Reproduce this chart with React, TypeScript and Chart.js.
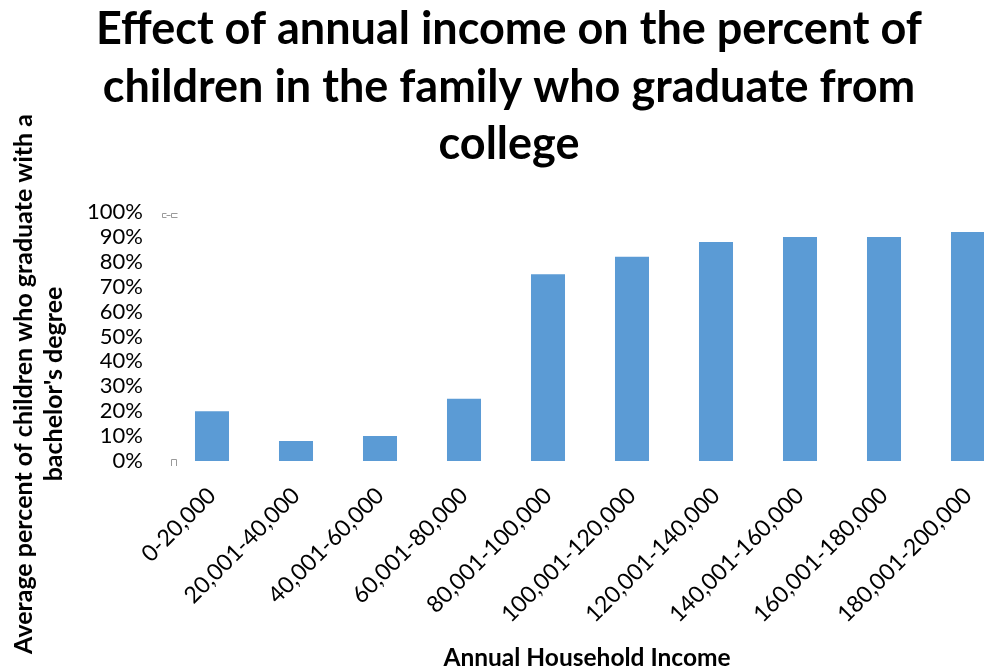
import React, { useEffect, useRef } from "react";
import { Chart, registerables } from "chart.js";

Chart.register(...registerables);

const categories = [
  "0-20,000",
  "20,001-40,000",
  "40,001-60,000",
  "60,001-80,000",
  "80,001-100,000",
  "100,001-120,000",
  "120,001-140,000",
  "140,001-160,000",
  "160,001-180,000",
  "180,001-200,000",
];

const percentGraduating = [20, 8, 10, 25, 75, 82, 88, 90, 90, 92];

const yTickMin = 0;
const yTickMax = 100;
const yTickStep = 10;

const titleLines = [
  "Effect of annual income on the percent of",
  "children in the family who graduate from",
  "college",
];

const yTitleLines = [
  "Average percent of children who graduate with a",
  "bachelor's degree",
];

const xTitle = "Annual Household Income";

const BAR_COLOR = "#5B9BD5";
const FONT = "Lato, 'Open Sans', sans-serif";

const textPlugin = {
  id: "customText",
  afterDraw(chart: any) {
    const ctx = chart.ctx as CanvasRenderingContext2D;
    const area = chart.chartArea;
    ctx.save();
    ctx.fillStyle = "#000";
    ctx.textAlign = "center";
    ctx.textBaseline = "alphabetic";

    // Main title
    ctx.font = `bold 45px ${FONT}`;
    const cx = chart.width / 2;
    titleLines.forEach((t, i) => ctx.fillText(t, cx, 44 + i * 57.5));

    // X axis title
    ctx.font = `bold 24.5px ${FONT}`;
    ctx.fillText(xTitle, (area.left + area.right) / 2 - 3, 666);

    // Y axis title (two lines, rotated, centred on each other)
    ctx.font = `bold 25px ${FONT}`;
    const yPos = [
      { x: 32, y: 384 },
      { x: 62, y: 384 },
    ];
    yTitleLines.forEach((t, i) => {
      ctx.save();
      ctx.translate(yPos[i].x, yPos[i].y);
      ctx.rotate(-Math.PI / 2);
      ctx.fillText(t, 0, 0);
      ctx.restore();
    });

    // small gray handle marks at the plot's left edge
    ctx.strokeStyle = "#9a9a9a";
    ctx.lineWidth = 1;
    const l = area.left;
    const t = area.top;
    const b = area.bottom;
    ctx.beginPath();
    ctx.moveTo(l - 3.5, t + 1.5);
    ctx.lineTo(l - 7.5, t + 1.5);
    ctx.lineTo(l - 7.5, t + 5.5);
    ctx.lineTo(l - 3.5, t + 5.5);
    ctx.moveTo(l + 7.5, t + 1.5);
    ctx.lineTo(l + 1.5, t + 1.5);
    ctx.lineTo(l + 1.5, t + 5.5);
    ctx.lineTo(l + 7.5, t + 5.5);
    ctx.moveTo(l + 0.5, t + 3.5);
    ctx.lineTo(l - 3.5, t + 3.5);
    ctx.stroke();
    ctx.beginPath();
    ctx.moveTo(l + 1.5, b + 5);
    ctx.lineTo(l + 1.5, b - 1.5);
    ctx.lineTo(l + 6.5, b - 1.5);
    ctx.lineTo(l + 6.5, b + 5);
    ctx.stroke();
    ctx.restore();
  },
};

export default function App() {
  const canvasRef = useRef<HTMLCanvasElement | null>(null);

  useEffect(() => {
    if (!canvasRef.current) return;
    const chart = new Chart(canvasRef.current, {
      type: "bar",
      data: {
        labels: categories,
        datasets: [
          {
            label: "Percent graduating",
            data: percentGraduating,
            backgroundColor: BAR_COLOR,
            borderWidth: 0,
            categoryPercentage: 1,
            barPercentage: 0.405,
          },
        ],
      },
      options: {
        responsive: false,
        animation: false,
        devicePixelRatio: 1,
        layout: { padding: { left: 0, right: 8, top: 212, bottom: 0 } },
        plugins: {
          legend: { display: false },
          title: { display: false },
          tooltip: { enabled: false },
        },
        scales: {
          x: {
            grid: { display: false, drawTicks: false },
            border: { display: false },
            ticks: {
              autoSkip: false,
              minRotation: 45,
              maxRotation: 45,
              padding: 21,
              color: "#000",
              font: { family: FONT, size: 23 },
            },
            afterFit(scale: any) {
              scale.height = 209;
            },
          },
          y: {
            min: yTickMin,
            max: yTickMax,
            grid: { display: false, drawTicks: false },
            border: { display: false },
            ticks: {
              autoSkip: false,
              stepSize: yTickStep,
              padding: 27,
              color: "#000",
              font: { family: FONT, size: 22 },
              callback: (v: any) => `${v}%`,
            },
            afterFit(scale: any) {
              scale.width = 170;
            },
          },
        },
      },
      plugins: [textPlugin],
    });
    return () => chart.destroy();
  }, []);

  return (
    <div
      style={{
        position: "fixed",
        left: 0,
        top: 0,
        width: 984,
        height: 670,
        overflow: "hidden",
        background: "#fff",
      }}
    >
      <canvas
        ref={canvasRef}
        width={1018}
        height={670}
        style={{ display: "block", width: 1018, height: 670 }}
      />
    </div>
  );
}
